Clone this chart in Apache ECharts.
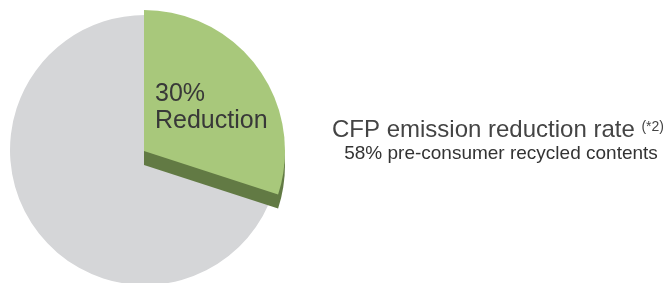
<!DOCTYPE html>
<html>
<head>
<meta charset="utf-8">
<script src="https://cdn.jsdelivr.net/npm/echarts@6/dist/echarts.min.js"></script>
<style>
  html, body { margin: 0; padding: 0; background: #fff; }
  #chart { width: 668px; height: 283px; }
</style>
</head>
<body>
<div id="chart"></div>
<script>
// share of emissions: reduction vs remaining
var categories = ['Reduction', 'Remaining'];
var shares = [30, 70];
var titleText = 'CFP emission reduction rate';
var noteText = '(*2)';
var subText = '58% pre-consumer recycled contents';

var chart = echarts.init(document.getElementById('chart'));

var pieData = categories.map(function (name, i) {
  return { name: name, value: shares[i] };
});

// only the reduction slice is coloured, the rest is hidden
function sliceData(color) {
  return pieData.map(function (d, i) {
    return {
      name: d.name,
      value: d.value,
      itemStyle: { color: i === 0 ? color : 'rgba(0,0,0,0)' }
    };
  });
}

var option = {
  animation: false,
  series: [
    {
      // grey base disc
      type: 'pie',
      silent: true,
      center: [145, 150],
      radius: [0, 135],
      startAngle: 90,
      label: { show: false },
      labelLine: { show: false },
      itemStyle: { color: '#d5d6d8' },
      data: pieData,
      z: 1
    },
    {
      // side of the raised slice
      type: 'pie',
      silent: true,
      center: [144, 165],
      radius: [0, 141],
      startAngle: 90,
      label: { show: false },
      labelLine: { show: false },
      data: sliceData('#627a44'),
      z: 2
    },
    {
      type: 'pie',
      silent: true,
      center: [144, 151],
      radius: [0, 141],
      startAngle: 90,
      label: { show: false },
      labelLine: { show: false },
      data: sliceData('#a8c87b'),
      z: 3
    }
  ],
  graphic: [
    {
      type: 'text', x: 155, y: 94, z: 10,
      style: {
        text: shares[0] + '%', fill: '#383838',
        font: '25px "Liberation Sans", Arial, sans-serif',
        textAlign: 'left', textVerticalAlign: 'middle'
      }
    },
    {
      type: 'text', x: 155, y: 121, z: 10,
      style: {
        text: categories[0], fill: '#383838',
        font: '25px "Liberation Sans", Arial, sans-serif',
        textAlign: 'left', textVerticalAlign: 'middle'
      }
    },
    {
      type: 'text', x: 498, y: 130, z: 10,
      style: {
        text: titleText + ' {n|' + noteText + '}', fill: '#444',
        font: '24px "Liberation Sans", Arial, sans-serif',
        textAlign: 'center', textVerticalAlign: 'middle',
        rich: {
          n: { fontSize: 14, fill: '#444', fontFamily: '"Liberation Sans", Arial, sans-serif', padding: [0, 0, 6, 0] }
        }
      }
    },
    {
      type: 'text', x: 501, y: 154, z: 10,
      style: {
        text: subText, fill: '#333',
        font: '19px "Liberation Sans", Arial, sans-serif',
        textAlign: 'center', textVerticalAlign: 'middle'
      }
    }
  ]
};

chart.setOption(option);
</script>
</body>
</html>
